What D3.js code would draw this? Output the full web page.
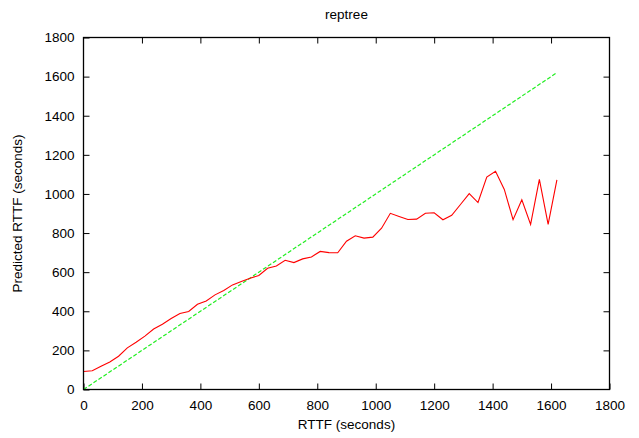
<!DOCTYPE html>
<html>
<head>
<meta charset="utf-8">
<script src="https://cdn.jsdelivr.net/npm/d3@7"></script>
<style>
  html, body { margin: 0; padding: 0; background: #fff; }
  svg { display: block; font-family: "Liberation Sans", Arial, Helvetica, sans-serif; }
</style>
</head>
<body>
<script>
// Actual RTTF values (seconds) at which predictions were evaluated
const rttf = [
  0, 30, 60, 90, 120, 150, 180, 210, 240, 270, 300, 330, 360, 390, 420, 450, 480,
  510, 540, 570, 600, 630, 660, 690, 720, 750, 780, 810, 840, 870, 900, 930, 960,
  990, 1020, 1050, 1080, 1110, 1140, 1170, 1200, 1230, 1260, 1290, 1320, 1350,
  1380, 1410, 1440, 1470, 1500, 1530, 1560, 1590, 1620
];
// REPTree predicted RTTF (seconds)
const predicted = [
  92, 96, 119, 141, 170, 213, 242, 273, 309, 334, 363, 389, 399, 436, 453, 484, 506,
  535, 552, 569, 583, 620, 632, 661, 649, 668, 678, 706, 700, 699, 758, 786, 774,
  779, 825, 901, 885, 869, 871, 901, 904, 868, 891, 946, 1002, 956,
  1086, 1116, 1023, 868, 970, 844, 1075, 844, 1072
];
// Ideal prediction line (predicted = actual)
const idealX = [0, 1620];
const idealY = [0, 1620];

const xTicks = [0, 200, 400, 600, 800, 1000, 1200, 1400, 1600, 1800];
const yTicks = [0, 200, 400, 600, 800, 1000, 1200, 1400, 1600, 1800];

const W = 639, H = 438;
const m = { left: 83.5, right: 609.5, top: 37.5, bottom: 389.5 };

const svg = d3.select("body").append("svg").attr("width", W).attr("height", H);

const x = d3.scaleLinear().domain([0, 1800]).range([m.left, m.right]);
const y = d3.scaleLinear().domain([0, 1800]).range([m.bottom, m.top]);

const tickLen = 6;
const fontSize = 13.5;
const fmt = d3.format("d");

// Ticks (inward, mirrored on all sides)
const bottomAxis = d3.axisBottom(x).tickValues(xTicks).tickFormat(fmt).tickSizeInner(-tickLen).tickSizeOuter(0).tickPadding(11);
const topAxis = d3.axisTop(x).tickValues(xTicks.slice(1, -1)).tickSizeInner(-tickLen).tickSizeOuter(0).tickFormat("");
const leftAxis = d3.axisLeft(y).tickValues(yTicks).tickFormat(fmt).tickSizeInner(-tickLen).tickSizeOuter(0).tickPadding(9);
const rightAxis = d3.axisRight(y).tickValues(yTicks.slice(1, -1)).tickSizeInner(-tickLen).tickSizeOuter(0).tickFormat("");

function styleAxis(g) {
  g.select(".domain").remove();
  g.selectAll(".tick line").attr("stroke", "#000").attr("stroke-width", 1);
  g.selectAll(".tick text").attr("fill", "#000").style("font-size", fontSize + "px")
    .style("font-family", '"Liberation Sans", Arial, Helvetica, sans-serif');
}

svg.append("g").attr("transform", `translate(0,${m.bottom})`).call(bottomAxis).call(styleAxis);
svg.append("g").attr("transform", `translate(0,${m.top})`).call(topAxis).call(styleAxis);
svg.append("g").attr("transform", `translate(${m.left},0)`).call(leftAxis).call(styleAxis);
svg.append("g").attr("transform", `translate(${m.right},0)`).call(rightAxis).call(styleAxis);

// Ideal line y = x (dashed green)
const idealPts = idealX.map((v, i) => [v, idealY[i]]);
svg.append("path")
  .datum(idealPts)
  .attr("fill", "none")
  .attr("stroke", "#22ee22")
  .attr("stroke-width", 1.2)
  .attr("stroke-dasharray", "4,2")
  .attr("d", d3.line().x(d => x(d[0])).y(d => y(d[1])));

// Predicted series (solid red)
const predPts = rttf.map((v, i) => [v, predicted[i]]);
svg.append("path")
  .datum(predPts)
  .attr("fill", "none")
  .attr("stroke", "#ff0000")
  .attr("stroke-width", 1.1)
  .attr("stroke-linejoin", "miter")
  .attr("d", d3.line().x(d => x(d[0])).y(d => y(d[1])));

// Plot border
svg.append("rect")
  .attr("x", m.left).attr("y", m.top)
  .attr("width", m.right - m.left).attr("height", m.bottom - m.top)
  .attr("fill", "none").attr("stroke", "#000").attr("stroke-width", 1.3);

// Title and axis labels
svg.append("text")
  .attr("x", (m.left + m.right) / 2).attr("y", 19)
  .attr("text-anchor", "middle").style("font-size", fontSize + "px").attr("fill", "#000")
  .text("reptree");

svg.append("text")
  .attr("x", (m.left + m.right) / 2).attr("y", 429)
  .attr("text-anchor", "middle").style("font-size", fontSize + "px").attr("fill", "#000")
  .text("RTTF (seconds)");

svg.append("text")
  .attr("transform", `translate(22,${(m.top + m.bottom) / 2}) rotate(-90)`)
  .attr("text-anchor", "middle").style("font-size", fontSize + "px").attr("fill", "#000")
  .text("Predicted RTTF (seconds)");
</script>
</body>
</html>
